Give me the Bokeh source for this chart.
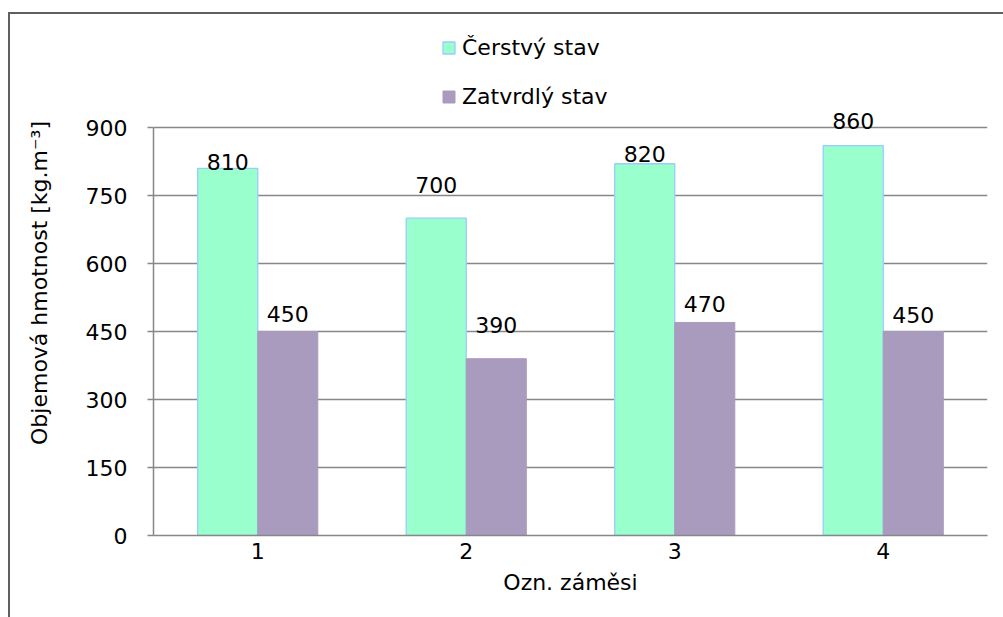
from bokeh.plotting import figure
from bokeh.models import ColumnDataSource, FactorRange, Legend, LegendItem, FixedTicker, Range1d
from bokeh.transform import dodge
from bokeh.embed import file_html
from bokeh.resources import INLINE
from bokeh.core.properties import value

# data
mixes = ["1", "2", "3", "4"]
fresh = [810, 700, 820, 860]
hardened = [450, 390, 470, 450]
y_ticks = [0, 150, 300, 450, 600, 750, 900]
y_max = 900

# label lift above each bar (px), placed by hand
fresh_lift = [6, 33, 10, 25]
hardened_lift = [18, 34, 18, 17]

FONT = "DejaVu Sans"
FS = "22px"
GREEN = "#99FFCC"
GREEN_EDGE = "#99CCFF"
PURPLE = "#A99BBD"
GRID = "#878787"

# value area is 408 px tall; the frame reaches 97 px higher to hold the legend
value_h = 408
head_h = 97
frame_h = value_h + head_h
y_top = y_max * frame_h / value_h

src = ColumnDataSource(dict(
    mix=mixes, fresh=fresh, hardened=hardened,
    fresh_txt=[str(v) for v in fresh], hardened_txt=[str(v) for v in hardened],
    fresh_off=[-v for v in fresh_lift], hardened_off=[-v for v in hardened_lift],
))

p = figure(
    x_range=FactorRange(*mixes, range_padding=0), y_range=Range1d(0, y_top),
    frame_width=834, frame_height=frame_h,
    min_border_left=143, min_border_right=16, min_border_top=16, min_border_bottom=82,
    output_backend="svg", toolbar_location=None,
)
p.styles = {
    "margin-left": "8px", "margin-top": "12px",
    "border-left": "2px solid #606060", "border-top": "2px solid #606060",
}
p.outline_line_color = None

bw = 0.288
r_fresh = p.vbar(x=dodge("mix", -bw / 2, range=p.x_range), top="fresh", width=bw, source=src,
                 fill_color=GREEN, line_color=GREEN_EDGE, line_width=1.3)
r_hard = p.vbar(x=dodge("mix", bw / 2, range=p.x_range), top="hardened", width=bw, source=src,
                fill_color=PURPLE, line_color=PURPLE, line_width=1)

p.text(x=dodge("mix", -bw / 2, range=p.x_range), y="fresh", text="fresh_txt", y_offset="fresh_off",
       source=src, text_align="center", text_baseline="alphabetic",
       text_font=value(FONT), text_font_size=FS, text_color="#000000")
p.text(x=dodge("mix", bw / 2, range=p.x_range), y="hardened", text="hardened_txt", y_offset="hardened_off",
       source=src, text_align="center", text_baseline="alphabetic",
       text_font=value(FONT), text_font_size=FS, text_color="#000000")

# grid
p.xgrid.grid_line_color = None
p.ygrid.grid_line_color = GRID
p.ygrid.grid_line_width = 1.5

# y axis
p.yaxis.ticker = FixedTicker(ticks=y_ticks)
p.yaxis.bounds = (0, y_max)
p.yaxis.axis_line_color = GRID
p.yaxis.axis_line_width = 1.5
p.yaxis.major_tick_line_color = GRID
p.yaxis.major_tick_line_width = 1.5
p.yaxis.major_tick_out = 6
p.yaxis.major_tick_in = 0
p.yaxis.minor_tick_line_color = None
p.yaxis.major_label_standoff = 20
p.yaxis.major_label_text_font = FONT
p.yaxis.major_label_text_font_size = FS
p.yaxis.major_label_text_color = "#000000"
p.yaxis.axis_label = "Objemová hmotnost [kg.m⁻³]"
p.yaxis.axis_label_text_font = FONT
p.yaxis.axis_label_text_font_size = FS
p.yaxis.axis_label_text_font_style = "normal"
p.yaxis.axis_label_text_color = "#000000"
p.yaxis.axis_label_standoff = 31

# x axis
p.xaxis.axis_line_color = GRID
p.xaxis.axis_line_width = 1.5
p.xaxis.major_tick_line_color = None
p.xaxis.major_tick_out = 0
p.xaxis.major_tick_in = 0
p.xaxis.major_label_standoff = 7
p.xaxis.major_label_text_font = FONT
p.xaxis.major_label_text_font_size = FS
p.xaxis.major_label_text_color = "#000000"
p.xaxis.axis_label = "Ozn. záměsi"
p.xaxis.axis_label_text_font = FONT
p.xaxis.axis_label_text_font_size = FS
p.xaxis.axis_label_text_font_style = "normal"
p.xaxis.axis_label_text_color = "#000000"
p.xaxis.axis_label_standoff = 8

legend = Legend(
    items=[LegendItem(label="Čerstvý stav", renderers=[r_fresh]),
           LegendItem(label="Zatvrdlý stav", renderers=[r_hard])],
    location=(288, 426), orientation="vertical",
    glyph_width=15, glyph_height=15, label_height=22, label_standoff=6, spacing=24,
    padding=0, margin=0, border_line_color=None, background_fill_alpha=0,
    label_text_font=FONT, label_text_font_size=FS, label_text_color="#000000",
)
p.add_layout(legend)

open("out.html", "w").write(file_html(p, INLINE))
